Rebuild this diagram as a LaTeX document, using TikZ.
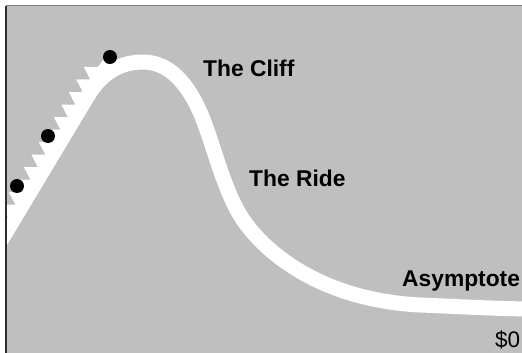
\documentclass[tikz,border=0pt]{standalone}
\usepackage{fontspec}
\setmainfont{Liberation Sans}
\definecolor{bggray}{RGB}{191,191,191}
\definecolor{leftline}{RGB}{45,45,45}
\definecolor{topline}{RGB}{125,125,125}
\begin{document}
\begin{tikzpicture}[x=1pt,y=-1pt,
  lbl/.style={anchor=base west, inner sep=0pt, font=\fontsize{22.8}{26}\selectfont\bfseries},
  money/.style={anchor=base west, inner sep=0pt, font=\fontsize{22.5}{26}\selectfont},
  dot/.style={fill=black, circle, minimum size=14pt, inner sep=0pt},
  road/.style={white, line width=15pt}]
\useasboundingbox (0,0) rectangle (522,353);
\fill[bggray] (6,6) rectangle (522,353);
\begin{scope}
  \clip (6.5,6.5) rectangle (522,353);
  \draw[road] (87.6,96.1)
     .. controls (103,70.4) and (123,62) .. (143,62)
     .. controls (170,62) and (188,85) .. (200,112)
     .. controls (212,139) and (222,185) .. (240,215)
     .. controls (262,251) and (320,300) .. (420,305)
     .. controls (470,307) and (500,309) .. (540,309);
  \fill[white] (-2,260) -- (94,100) -- (108,66) -- (104,59)
     \foreach \k in {0,...,13}{ -- ({97.8-7.5*\k},{67+12.5*\k}) -- ({83.8-7.5*\k},{67+12.5*\k}) }
     -- (-20,260) -- cycle;
\end{scope}
\draw[leftline, line width=1.2pt] (6,6) -- (6,353);
\draw[topline, line width=1pt] (6,6) -- (522,6);
\node[dot] (d1) at (17,186) {};
\node[dot] (d2) at (48,136) {};
\node[dot] (d3) at (110,57) {};
\node[lbl] (cliff) at (203,77) {The Cliff};
\node[lbl] (ride) at (249,186.7) {The Ride};
\node[lbl] (asym) at (402,286) {Asymptote};
\node[money] (zero) at (495,347) {\$0};
\end{tikzpicture}
\end{document}
